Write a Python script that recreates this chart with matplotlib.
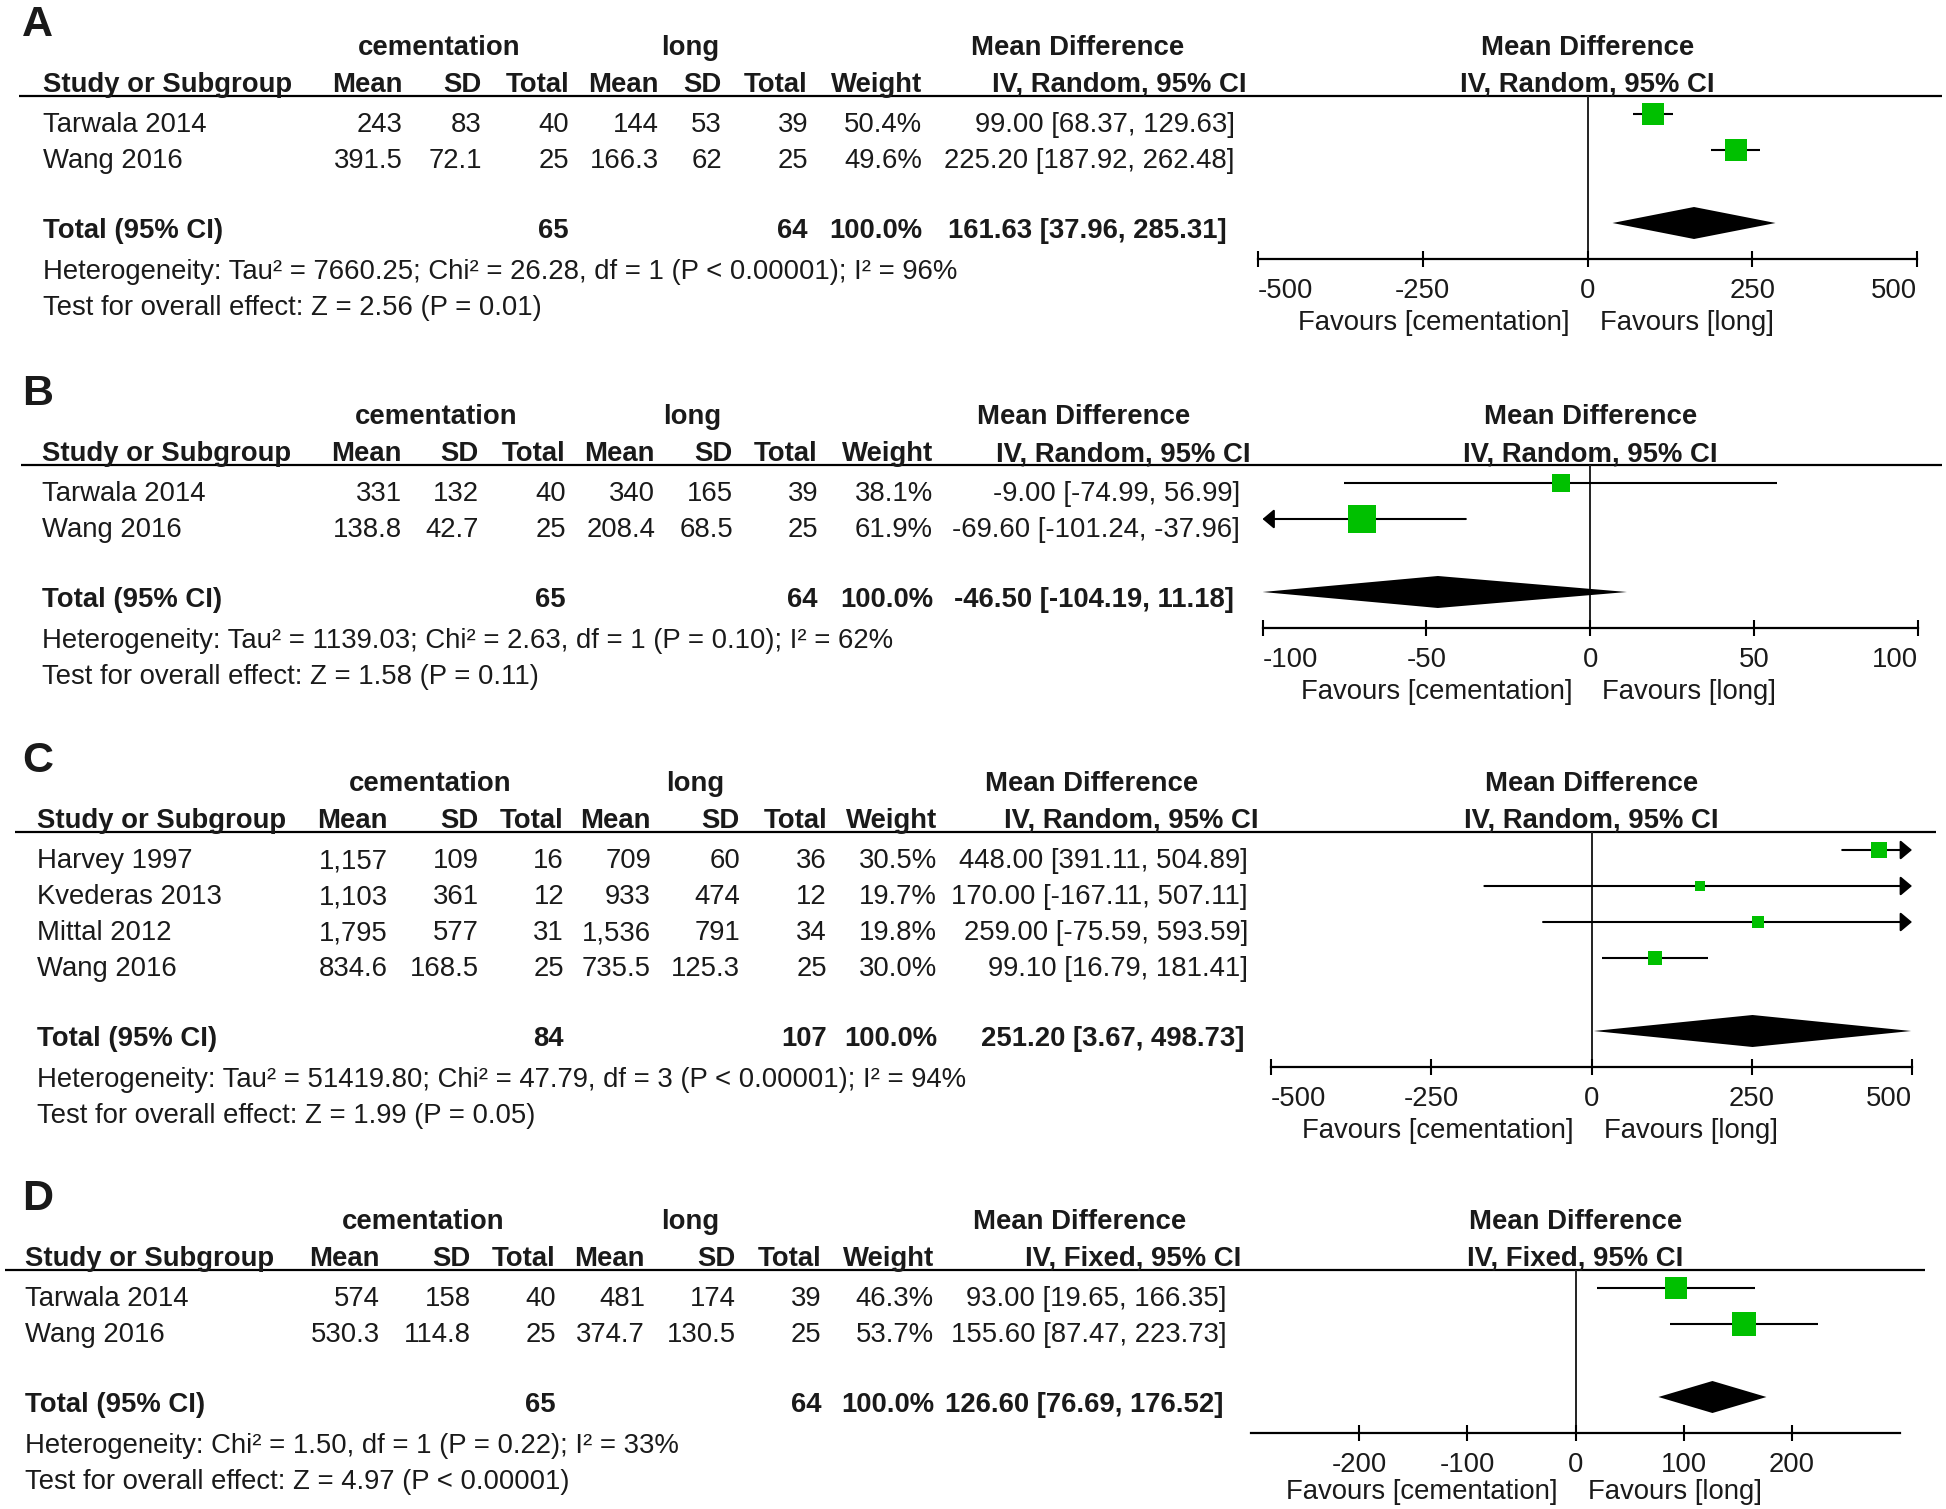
import matplotlib
matplotlib.use('Agg')
import matplotlib.pyplot as plt

plt.rcParams['font.family'] = ['Liberation Sans', 'DejaVu Sans']

W, H = 1946, 1509
TXT = '#1a1a1a'
GREEN = '#00c000'
FS = 19.8

# ---------------- Panel A ----------------
studies_A = ['Tarwala 2014', 'Wang 2016']
cem_mean_A = ['243', '391.5']
cem_sd_A = ['83', '72.1']
cem_n_A = ['40', '25']
long_mean_A = ['144', '166.3']
long_sd_A = ['53', '62']
long_n_A = ['39', '25']
weight_A = [50.4, 49.6]
md_A = [99.00, 225.20]
lo_A = [68.37, 187.92]
hi_A = [129.63, 262.48]
tot_n_A = ['65', '64']
total_A = [161.63, 37.96, 285.31]
het_A = 'Heterogeneity: Tau² = 7660.25; Chi² = 26.28, df = 1 (P < 0.00001); I² = 96%'
test_A = 'Test for overall effect: Z = 2.56 (P = 0.01)'
ticks_A = [-500, -250, 0, 250, 500]
method_A = 'IV, Random, 95% CI'

# ---------------- Panel B ----------------
studies_B = ['Tarwala 2014', 'Wang 2016']
cem_mean_B = ['331', '138.8']
cem_sd_B = ['132', '42.7']
cem_n_B = ['40', '25']
long_mean_B = ['340', '208.4']
long_sd_B = ['165', '68.5']
long_n_B = ['39', '25']
weight_B = [38.1, 61.9]
md_B = [-9.00, -69.60]
lo_B = [-74.99, -101.24]
hi_B = [56.99, -37.96]
tot_n_B = ['65', '64']
total_B = [-46.50, -104.19, 11.18]
het_B = 'Heterogeneity: Tau² = 1139.03; Chi² = 2.63, df = 1 (P = 0.10); I² = 62%'
test_B = 'Test for overall effect: Z = 1.58 (P = 0.11)'
ticks_B = [-100, -50, 0, 50, 100]
method_B = 'IV, Random, 95% CI'

# ---------------- Panel C ----------------
studies_C = ['Harvey 1997', 'Kvederas 2013', 'Mittal 2012', 'Wang 2016']
cem_mean_C = ['1,157', '1,103', '1,795', '834.6']
cem_sd_C = ['109', '361', '577', '168.5']
cem_n_C = ['16', '12', '31', '25']
long_mean_C = ['709', '933', '1,536', '735.5']
long_sd_C = ['60', '474', '791', '125.3']
long_n_C = ['36', '12', '34', '25']
weight_C = [30.5, 19.7, 19.8, 30.0]
md_C = [448.00, 170.00, 259.00, 99.10]
lo_C = [391.11, -167.11, -75.59, 16.79]
hi_C = [504.89, 507.11, 593.59, 181.41]
tot_n_C = ['84', '107']
total_C = [251.20, 3.67, 498.73]
het_C = 'Heterogeneity: Tau² = 51419.80; Chi² = 47.79, df = 3 (P < 0.00001); I² = 94%'
test_C = 'Test for overall effect: Z = 1.99 (P = 0.05)'
ticks_C = [-500, -250, 0, 250, 500]
method_C = 'IV, Random, 95% CI'

# ---------------- Panel D ----------------
studies_D = ['Tarwala 2014', 'Wang 2016']
cem_mean_D = ['574', '530.3']
cem_sd_D = ['158', '114.8']
cem_n_D = ['40', '25']
long_mean_D = ['481', '374.7']
long_sd_D = ['174', '130.5']
long_n_D = ['39', '25']
weight_D = [46.3, 53.7]
md_D = [93.00, 155.60]
lo_D = [19.65, 87.47]
hi_D = [166.35, 223.73]
tot_n_D = ['65', '64']
total_D = [126.60, 76.69, 176.52]
het_D = 'Heterogeneity: Chi² = 1.50, df = 1 (P = 0.22); I² = 33%'
test_D = 'Test for overall effect: Z = 4.97 (P < 0.00001)'
ticks_D = [-200, -100, 0, 100, 200]
method_D = 'IV, Fixed, 95% CI'

col_headers = ['Mean', 'SD', 'Total', 'Mean', 'SD', 'Total', 'Weight']
group_headers = ['cementation', 'long', 'Mean Difference']
fav_left = 'Favours [cementation]'
fav_right = 'Favours [long]'

panels = [
    dict(letter='A', studies=studies_A, cols=[cem_mean_A, cem_sd_A, cem_n_A, long_mean_A, long_sd_A, long_n_A],
         weight=weight_A, md=md_A, lo=lo_A, hi=hi_A, tot_n=tot_n_A, total=total_A, het=het_A, test=test_A,
         ticks=ticks_A, method=method_A),
    dict(letter='B', studies=studies_B, cols=[cem_mean_B, cem_sd_B, cem_n_B, long_mean_B, long_sd_B, long_n_B],
         weight=weight_B, md=md_B, lo=lo_B, hi=hi_B, tot_n=tot_n_B, total=total_B, het=het_B, test=test_B,
         ticks=ticks_B, method=method_B),
    dict(letter='C', studies=studies_C, cols=[cem_mean_C, cem_sd_C, cem_n_C, long_mean_C, long_sd_C, long_n_C],
         weight=weight_C, md=md_C, lo=lo_C, hi=hi_C, tot_n=tot_n_C, total=total_C, het=het_C, test=test_C,
         ticks=ticks_C, method=method_C),
    dict(letter='D', studies=studies_D, cols=[cem_mean_D, cem_sd_D, cem_n_D, long_mean_D, long_sd_D, long_n_D],
         weight=weight_D, md=md_D, lo=lo_D, hi=hi_D, tot_n=tot_n_D, total=total_D, het=het_D, test=test_D,
         ticks=ticks_D, method=method_D),
]

# layout in figure pixels (top-down)
LAYOUT = {
    'A': dict(line_y=96, line_x=(19, 1942), left=43, cols=(403, 482, 569, 659, 722, 808, 922),
              md_r=1235, md_hdr_r=1246, md_tot_r=1227, grp=(439, 690, 1078), px=(1258, 1917),
              xlim=(-500, 500), fav_dy=71),
    'B': dict(line_y=465, line_x=(21, 1942), left=42, cols=(402, 479, 566, 655, 733, 818, 933),
              md_r=1240, md_hdr_r=1250, md_tot_r=1234, grp=(436, 692, 1084), px=(1262.5, 1918),
              xlim=(-100, 100), fav_dy=71),
    'C': dict(line_y=832, line_x=(15, 1936), left=37, cols=(388, 479, 564, 651, 740, 827, 937),
              md_r=1248, md_hdr_r=1259, md_tot_r=1244, grp=(430, 695, 1092), px=(1271, 1912),
              xlim=(-500, 500), fav_dy=71),
    'D': dict(line_y=1270, line_x=(5, 1925), left=25, cols=(380, 471, 556, 645, 736, 821, 934),
              md_r=1227, md_hdr_r=1241, md_tot_r=1223, grp=(423, 690, 1080), px=(1251, 1900),
              xlim=(-300, 300), fav_dy=66),
}

ROW = 36


def md_str(m, l, h):
    return f"{m:.2f} [{l:.2f}, {h:.2f}]"


fig = plt.figure(figsize=(W / 100, H / 100), dpi=100)
bg = fig.add_axes([0, 0, 1, 1])
bg.set_xlim(0, W)
bg.set_ylim(H, 0)
bg.axis('off')


def t(x, y, s, ha='left', bold=False, size=FS, **kw):
    bg.text(x, y, s, ha=ha, va='baseline', fontsize=size, color=TXT,
            fontweight='bold' if bold else 'normal', **kw)


for p in panels:
    L = LAYOUT[p['letter']]
    ly = L['line_y']
    n = len(p['studies'])
    cols = L['cols']

    # letter
    t(22, ly - 60, p['letter'], bold=True, size=31)
    # group headers
    t(L['grp'][0], ly - 41, group_headers[0], ha='center', bold=True)
    t(L['grp'][1], ly - 41, group_headers[1], ha='center', bold=True)
    t(L['grp'][2], ly - 41, group_headers[2], ha='center', bold=True)
    # column headers
    t(L['left'], ly - 4, 'Study or Subgroup', bold=True)
    for cx, h in zip(cols, col_headers):
        t(cx, ly - 4, h, ha='right', bold=True)
    t(L['md_hdr_r'], ly - 4, p['method'], ha='right', bold=True)
    pc = (L['px'][0] + L['px'][1]) / 2
    t(pc, ly - 41, 'Mean Difference', ha='center', bold=True)
    t(pc, ly - 4, p['method'], ha='center', bold=True)
    # header rule
    bg.plot(L['line_x'], [ly, ly], color='black', lw=1.6, solid_capstyle='butt')

    # study rows
    for i in range(n):
        yb = ly + ROW * (i + 1)
        t(L['left'], yb, p['studies'][i])
        for cx, col in zip(cols[:6], p['cols']):
            t(cx, yb, col[i], ha='right')
        t(cols[6], yb, f"{p['weight'][i]:.1f}%", ha='right')
        t(L['md_r'], yb, md_str(p['md'][i], p['lo'][i], p['hi'][i]), ha='right')

    total_y = ly + ROW * n + 70
    t(L['left'], total_y, 'Total (95% CI)', bold=True)
    t(cols[2], total_y, p['tot_n'][0], ha='right', bold=True)
    t(cols[5], total_y, p['tot_n'][1], ha='right', bold=True)
    t(cols[6], total_y, '100.0%', ha='right', bold=True)
    t(L['md_tot_r'], total_y, md_str(*p['total']), ha='right', bold=True)
    t(L['left'], total_y + 41, p['het'])
    t(L['left'], total_y + 77, p['test'])

    # forest axes
    axis_y = total_y + 21
    x0, x1 = L['px']
    ax = fig.add_axes([x0 / W, 1 - axis_y / H, (x1 - x0) / W, (axis_y - ly) / H])
    ax.patch.set_alpha(0)
    xmin, xmax = L['xlim']
    ax.set_xlim(xmin, xmax)
    ax.set_ylim(axis_y, ly)
    for s in ['top', 'left', 'right']:
        ax.spines[s].set_visible(False)
    ax.spines['bottom'].set_linewidth(1.6)
    ax.set_yticks([])
    ax.set_xticks(p['ticks'])
    ax.set_xticklabels([str(v) for v in p['ticks']])
    ax.tick_params(axis='x', direction='inout', length=12, width=1.5, labelsize=FS,
                   labelcolor=TXT, pad=7.5)
    for v, lab in zip(p['ticks'], ax.get_xticklabels()):
        if v == xmin:
            lab.set_ha('left')
        elif v == xmax:
            lab.set_ha('right')
    ax.axvline(0, color='#222222', lw=1.4, zorder=1)

    for i in range(n):
        ym = ly + ROW * (i + 1) - 18
        lo, hi, m = p['lo'][i], p['hi'][i], p['md'][i]
        clo, chi = max(lo, xmin), min(hi, xmax)
        if lo < xmin and hi > xmax:
            style = '<|-|>'
        elif hi > xmax:
            style = '-|>'
        elif lo < xmin:
            style = '<|-'
        else:
            style = None
        if style is None:
            ax.plot([clo, chi], [ym, ym], color='black', lw=1.5, zorder=2, solid_capstyle='butt')
        else:
            ax.annotate('', xy=(chi, ym), xytext=(clo, ym),
                        arrowprops=dict(arrowstyle=style + ',head_length=0.5,head_width=0.42',
                                        mutation_scale=14, lw=1.5, color='black',
                                        shrinkA=0, shrinkB=0),
                        annotation_clip=False, zorder=2)
        side_px = 3.5 + 0.38 * p['weight'][i]
        ax.plot([m], [ym], marker='s', ms=side_px * 0.72, mew=0, color=GREEN,
                linestyle='none', zorder=3, clip_on=False)

    est, tlo, thi = p['total']
    tlo, thi = max(tlo, xmin), min(thi, xmax)
    yd = total_y - 15
    ax.fill([tlo, est, thi, est], [yd, yd - 16, yd, yd + 16], color='black', lw=0, zorder=3)

    fav_y = axis_y + L['fav_dy']
    ax.annotate(fav_left, xy=(0, fav_y), xytext=(-18 * 0.72, 0), textcoords='offset points',
                ha='right', va='baseline', fontsize=FS, color=TXT, annotation_clip=False)
    ax.annotate(fav_right, xy=(0, fav_y), xytext=(12 * 0.72, 0), textcoords='offset points',
                ha='left', va='baseline', fontsize=FS, color=TXT, annotation_clip=False)

fig.savefig('out.png', dpi=100, facecolor='white')
